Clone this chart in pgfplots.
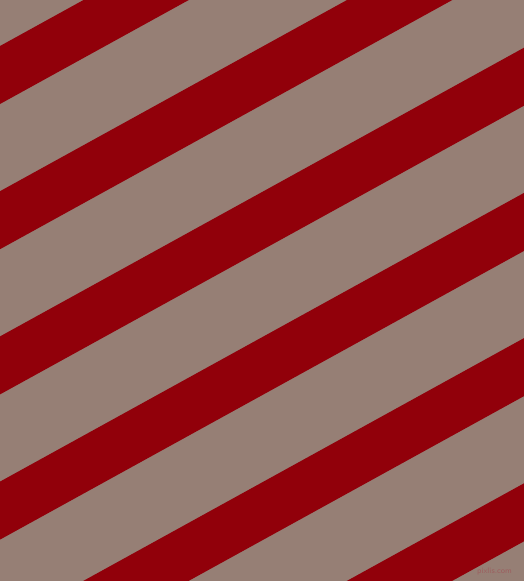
\documentclass[border=0pt]{standalone}
\usepackage{pgfplots}
\pgfplotsset{compat=1.18}
\definecolor{bgc}{HTML}{967F75}
\definecolor{stripe}{HTML}{91000A}
\definecolor{wm}{HTML}{9C5F5F}
\begin{document}
\begin{tikzpicture}
\begin{axis}[
  width=524pt, height=581pt, scale only axis,
  xmin=0, xmax=524, ymin=0, ymax=581, y dir=reverse,
  hide axis, clip=true,
]
\addplot[fill=bgc, draw=none] coordinates {(0,0) (524,0) (524,581) (0,581)} -- cycle;
% stripes: top edge at x=0 is b, slope 0.551, vertical width 58
\addplot[fill=stripe, draw=none, overlay] coordinates {(0,46.0) (524,-242.7) (524,-184.7) (0,104.0)} -- cycle;
\addplot[fill=stripe, draw=none, overlay] coordinates {(0,191.2) (524,-97.5) (524,-39.5) (0,249.2)} -- cycle;
\addplot[fill=stripe, draw=none, overlay] coordinates {(0,336.4) (524,47.7) (524,105.7) (0,394.4)} -- cycle;
\addplot[fill=stripe, draw=none, overlay] coordinates {(0,481.6) (524,192.9) (524,250.9) (0,539.6)} -- cycle;
\addplot[fill=stripe, draw=none, overlay] coordinates {(0,626.8) (524,338.1) (524,396.1) (0,684.8)} -- cycle;
\addplot[fill=stripe, draw=none, overlay] coordinates {(0,772.0) (524,483.3) (524,541.3) (0,830.0)} -- cycle;
\node[text=wm, font=\fontsize{8}{8}\selectfont\sffamily, inner sep=0pt] at (axis cs:494.5,571) {pixlis.com};
\end{axis}
\end{tikzpicture}
\end{document}
